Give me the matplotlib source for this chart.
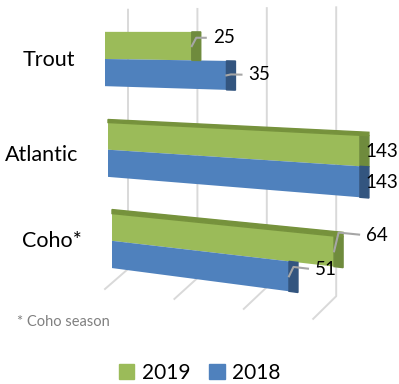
import numpy as np
import matplotlib
matplotlib.use("Agg")
import matplotlib.pyplot as plt
import matplotlib.transforms as mtransforms
from matplotlib.patches import Rectangle, Patch

plt.rcParams['font.family'] = ['Lato', 'DejaVu Sans']

# data (bottom row first)
categories = ["Coho*", "Atlantic", "Trout"]
series_names = ["2019", "2018"]
values_2019 = [64, 143, 25]
values_2018 = [51, 143, 35]
grid_ticks = [0, 20, 40, 60]
footnote = "* Coho season"

# styles
GREEN, GREEN_SIDE, GREEN_TOP = "#9bbb59", "#6f8b3d", "#76923c"
BLUE, BLUE_SIDE = "#4f81bd", "#33557f"
GRID = "#d9d9d9"
LEADER = "#a6a6a6"

W, H = 399, 384
PX = 3.47      # pixels per value unit
X0 = 105       # pixel of value zero
ROW = 90.5     # pixels between categories
AXIS_MAX = 72.6
CAP = 9 / PX   # visible end face
BH = 0.3       # bar height (category units)
row_shift_px = [7, 3, 0]
top_px = [4, 3, 0]
cat_dy = [4, 7, 2]   # category label nudge (px, down)
# label offsets (px) from end of end face, per row, per series
lbl_dx = [[23, 17], [-3, -3], [12, 13]]
lbl_dy = [[-17, -9], [0, 0], [-8, -1]]


class Tilt(mtransforms.Transform):
    """fake perspective: horizontal lines fan out from a far-left vanishing point"""
    input_dims = output_dims = 2

    def transform_non_affine(self, values):
        v = np.asarray(values, float)
        xy = v.reshape(-1, 2)
        x, y = xy[:, 0], xy[:, 1]
        out = np.column_stack([x, y - (H - 31 - y) * (x - X0) / 1800.0])
        return out.reshape(v.shape)


fig = plt.figure(figsize=(W / 100, H / 100), dpi=100)
ax = fig.add_axes([0, 0, 1, 1])
ax.axis("off")
ax.set_xlim(-X0 / PX, (W - X0) / PX)
ax.set_ylim(-144 / ROW, (H - 144) / ROW)

tr = ax.transData + Tilt()
trx = ax.get_xaxis_transform() + Tilt()

# back wall + floor grid
wall_off = 23 / PX
floor_dx = 23 / PX
for t in grid_ticks:
    x = t + wall_off
    ax.plot([x, x, x - floor_dx], [(H - 10) / H, (H - 266) / H, (H - 289) / H],
            color=GRID, lw=1.4, transform=trx, zorder=1, clip_on=False)

idx = np.arange(len(categories))
shift = np.array(row_shift_px) / PX
w19 = np.minimum(values_2019, AXIS_MAX)
w18 = np.minimum(values_2018, AXIS_MAX)

ax.barh(idx + BH / 2, w19, height=BH, left=shift, color=GREEN, transform=tr,
        zorder=3, clip_on=False)
ax.barh(idx - BH / 2, w18, height=BH, left=shift, color=BLUE, transform=tr,
        zorder=3, clip_on=False)

for i in idx:
    # end faces
    ax.add_patch(Rectangle((shift[i] + w19[i], idx[i]), CAP, BH, color=GREEN_SIDE,
                           transform=tr, zorder=3, clip_on=False))
    ax.add_patch(Rectangle((shift[i] + w18[i], idx[i] - BH), CAP, BH, color=BLUE_SIDE,
                           transform=tr, zorder=3, clip_on=False))
    # top face
    if top_px[i] > 0:
        ax.add_patch(Rectangle((shift[i], idx[i] + BH), w19[i] + CAP, top_px[i] / ROW,
                               color=GREEN_TOP, transform=tr, zorder=3, clip_on=False))

    # data labels + leaders
    for s, (vals, ws, yc) in enumerate([(values_2019, w19, idx[i] + BH / 2),
                                        (values_2018, w18, idx[i] - BH / 2)]):
        xe = shift[i] + ws[i] + CAP
        lx = xe + lbl_dx[i][s] / PX
        ly = yc - lbl_dy[i][s] / ROW
        ax.text(lx, ly, str(vals[i]), fontsize=13.5, ha="left", va="center",
                transform=tr, zorder=5, clip_on=False)
        if lbl_dx[i][s] > 5:
            xf = shift[i] + ws[i]
            ax.plot([xf, xf + CAP * 0.5, lx - 7 / PX], [yc, ly, ly], color=LEADER,
                    lw=1.5, transform=tr, zorder=4, clip_on=False)

    # category label
    ax.text(-30 / PX + shift[i], idx[i] - cat_dy[i] / ROW, categories[i], fontsize=15.5,
            ha="right", va="center", transform=tr, clip_on=False)

fig.text(17 / W, 1 - 322 / H, footnote, fontsize=10.5, color="#808080",
         ha="left", va="center")

handles = [Patch(color=GREEN), Patch(color=BLUE)]
fig.legend(handles, series_names, loc="center", bbox_to_anchor=(0.5, 1 - 373 / H),
           ncol=2, frameon=False, fontsize=15, handlelength=0.75, handleheight=0.75,
           handletextpad=0.35, columnspacing=0.9)

fig.savefig("out.png", dpi=100)
